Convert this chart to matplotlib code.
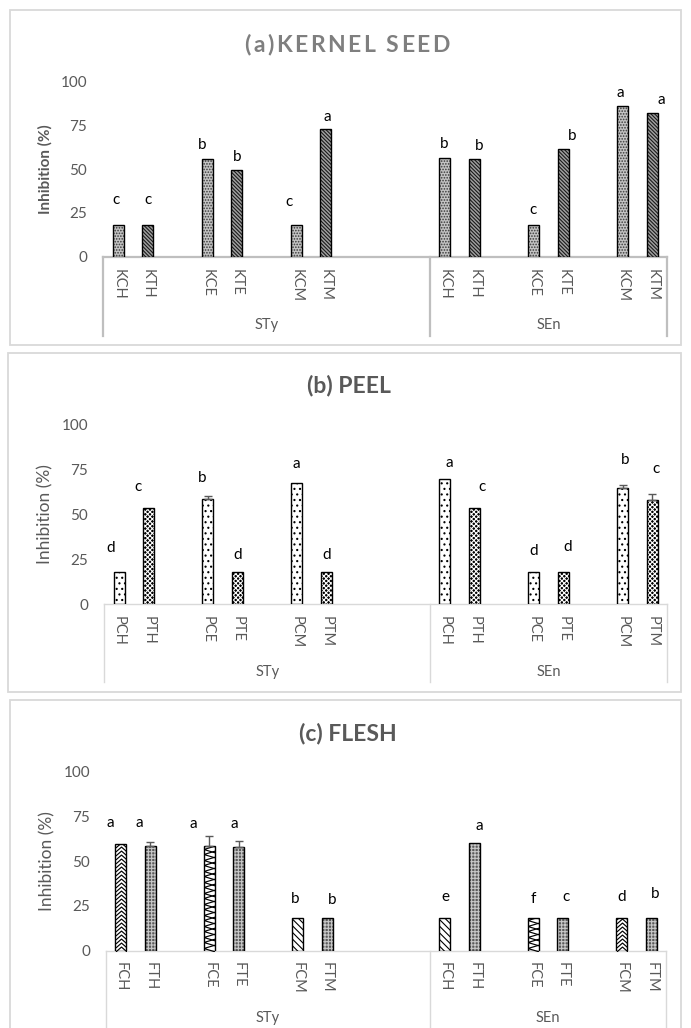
import matplotlib
matplotlib.use('Agg')
import matplotlib.pyplot as plt
import numpy as np
from matplotlib.patches import Rectangle
from matplotlib.path import Path

plt.rcParams['font.family'] = ['Lato', 'DejaVu Sans']
plt.rcParams['hatch.linewidth'] = 0.8

# ---------------- data ----------------
groups = ['STy', 'SEn']

kernel_labels = ['KCH', 'KTH', 'KCE', 'KTE', 'KCM', 'KTM']
kernel_sty = [18.0, 18.0, 55.7, 49.6, 18.0, 72.8]
kernel_sen = [56.6, 55.8, 18.0, 61.4, 86.0, 82.3]
kernel_letters_sty = ['c', 'c', 'b', 'b', 'c', 'a']
kernel_letters_sen = ['b', 'b', 'c', 'b', 'a', 'a']

peel_labels = ['PCH', 'PTH', 'PCE', 'PTE', 'PCM', 'PTM']
peel_sty = [18.0, 53.6, 58.2, 18.0, 67.5, 18.0]
peel_sen = [69.6, 53.7, 18.0, 18.0, 64.8, 57.8]
peel_err_sty = [0, 0, 2.0, 0, 0, 0]
peel_err_sen = [0, 0, 0, 0, 1.5, 3.4]
peel_letters_sty = ['d', 'c', 'b', 'd', 'a', 'd']
peel_letters_sen = ['a', 'c', 'd', 'd', 'b', 'c']

flesh_labels = ['FCH', 'FTH', 'FCE', 'FTE', 'FCM', 'FTM']
flesh_sty = [59.7, 58.7, 58.2, 57.8, 18.0, 18.0]
flesh_sen = [18.0, 60.1, 18.0, 18.0, 18.0, 18.0]
flesh_err_sty = [0, 2.0, 6.0, 3.2, 0, 0]
flesh_err_sen = [0, 0, 0, 0, 0, 0]
flesh_letters_sty = ['a', 'a', 'a', 'a', 'b', 'b']
flesh_letters_sen = ['e', 'a', 'f', 'c', 'd', 'b']

# letter annotation placement (y in % units, x shift in slot units)
kernel_letter_y = [32.4, 32.4, 63.8, 57.1, 31.4, 79.6, 64.2, 63.2, 26.7, 69.0, 93.3, 89.5]
kernel_letter_dx = [-0.07, 0, -0.18, 0, -0.25, 0.06, 0, 0.18, 0, 0.3, -0.07, 0.3]
peel_letter_y = [31.4, 65.0, 70.3, 27.3, 78.0, 27.3, 78.6, 65.0, 29.7, 31.6, 79.9, 74.9]
peel_letter_dx = [-0.27, -0.37, -0.18, 0, 0, 0, 0.15, 0.27, 0, 0.15, 0.1, 0.12]
flesh_letter_y = [71.5, 71.5, 70.6, 70.8, 28.9, 28.3, 30.2, 69.8, 28.9, 29.8, 30.2, 31.8]
flesh_letter_dx = [-0.34, -0.36, -0.55, -0.13, -0.09, 0.18, 0, 0.16, 0, 0.1, 0, 0.13]

# ---------------- layout ----------------
W, H = 691, 1028
fig = plt.figure(figsize=(W / 100, H / 100), dpi=100)
fig.patch.set_facecolor('white')

SLOTS_IN_PAIR = [0, 1, 3, 4, 6, 7]
GROUP_OFFSET = [0, 11]
NSLOTS = 19
BAR_W = 0.37
GRAY = '#595959'


def xpos(g, i):
    return GROUP_OFFSET[g] + SLOTS_IN_PAIR[i]


def chevron(kind):
    if kind == '^':
        v = [(-0.5, -0.22), (0, 0.22), (0.5, -0.22)]
    else:  # '<'
        v = [(0.5, -0.3), (-0.5, 0), (0.5, 0.3)]
    return Path(v, [Path.MOVETO, Path.LINETO, Path.LINETO])


CHEV_STEP = {'^': 4.0, '<': 5.5}


def make_panel(p):
    ppu = (p['y0'] - p['y100']) / 100.0
    left = p['left'] / W
    width = (p['right'] - p['left']) / W
    bottom = 1 - p['y0'] / H
    height = (p['y0'] - p['y100']) / H
    # border
    fig.patches.append(Rectangle((p['bx0'] / W, 1 - p['by1'] / H),
                                 (p['bx1'] - p['bx0']) / W, (p['by1'] - p['by0']) / H,
                                 transform=fig.transFigure, fill=False,
                                 edgecolor='#d9d9d9', linewidth=1.3, zorder=0))
    ax = fig.add_axes([left, bottom, width, height])
    ax.set_xlim(-0.5, NSLOTS - 0.5)
    ax.set_ylim(0, 100)
    for s in ax.spines.values():
        s.set_visible(False)
    ax.set_facecolor('none')
    ax.set_yticks([0, 25, 50, 75, 100])
    ax.tick_params(axis='y', length=0, pad=11.5, labelsize=11, labelcolor=GRAY)
    # categories
    xs, labs = [], []
    for g, vals in enumerate(p['vals']):
        for i in range(6):
            xs.append(xpos(g, i))
            labs.append(p['labels'][i])
    ax.set_xticks(xs)
    ax.set_xticklabels(labs, rotation=270, fontsize=10.5, color=GRAY)
    ax.tick_params(axis='x', length=0, pad=p['xpad'])
    # axis box
    ybot = -(p['bottom'] - p['y0']) / ppu
    lc, lw = p['linecolor'], p['linewidth']
    ax.plot([-0.5, NSLOTS - 0.5], [0, 0], color=lc, lw=lw, clip_on=False, zorder=1)
    for xv in [-0.5, 10.5, NSLOTS - 0.5]:
        ax.plot([xv, xv], [0, ybot], color=lc, lw=lw, clip_on=False, zorder=1)
    ygrp = -(p['group_y'] - p['y0']) / ppu
    for g, name in enumerate(groups):
        xc = (-0.5 + 10.5) / 2 if g == 0 else (10.5 + NSLOTS - 0.5) / 2
        ax.text(xc, ygrp, name, ha='center', va='center', fontsize=10.5, color=GRAY,
                clip_on=False)
    # bars
    k = 0
    for g, vals in enumerate(p['vals']):
        errs = p['errs'][g]
        for i, v in enumerate(vals):
            x = xpos(g, i)
            st = p['styles'][g][i]
            bars = ax.bar(x, v, BAR_W, color=st['face'], edgecolor=st['hcolor'],
                          hatch=st.get('hatch'), linewidth=0, zorder=2)
            if st.get('marker'):
                step = CHEV_STEP[st['marker']] / ppu
                ys = np.arange(step * 0.5, v + step, step)
                ln, = ax.plot([x] * len(ys), ys, linestyle='none',
                              marker=chevron(st['marker']), markersize=8,
                              markeredgecolor='black', markerfacecolor='none',
                              markeredgewidth=0.85, zorder=3)
                ln.set_clip_path(bars.patches[0])
            ax.bar(x, v, BAR_W, fill=False, edgecolor='black', linewidth=1.0, zorder=4)
            if errs[i] > 0:
                ax.errorbar(x, v, yerr=[[0], [errs[i]]], fmt='none', ecolor=GRAY,
                            elinewidth=1.0, capsize=3, capthick=1.0, zorder=5)
            ax.text(x + p['ldx'][k], p['ly'][k], p['letters'][g][i], ha='center',
                    va='center', fontsize=11, color='black', zorder=6, clip_on=False)
            k += 1
    # y label
    fig.text(p['ylab_x'] / W, 1 - (p['y0'] + p['y100']) / 2 / H, 'Inhibition (%)',
             rotation=90, ha='center', va='center', color=GRAY,
             fontsize=p['ylab_size'], fontweight=p['ylab_weight'])
    return ax


def spaced_title(text, cx, base_y, spacing, **kw):
    renderer = fig.canvas.get_renderer()

    def width(s):
        t = fig.text(0, 0, s, **kw)
        w = t.get_window_extent(renderer).width
        t.remove()
        return w

    bx = width('x')
    adv = [0.0] + [width(text[:i] + 'x') - bx for i in range(1, len(text))]
    total = width(text) + spacing * (len(text) - 1)
    x0 = cx - total / 2
    for i, ch in enumerate(text):
        if ch == ' ':
            continue
        fig.text((x0 + adv[i] + i * spacing) / W, 1 - base_y / H, ch, ha='left',
                 va='baseline', **kw)


kernel_style = [
    dict(face='#c4c4c4', hatch='......', hcolor='#3a3a3a'),
    dict(face='#a0a0a0', hatch='\\' * 9, hcolor='#1a1a1a'),
]
peel_style = [
    dict(face='white', hatch='...', hcolor='black'),
    dict(face='black', hatch='x' * 7, hcolor='white'),
]
flesh_c_styles = [
    [dict(face='white', marker='^', hcolor='black'),
     dict(face='white', marker='<', hcolor='black'),
     dict(face='white', hatch='\\' * 5, hcolor='black')],
    [dict(face='white', hatch='\\' * 5, hcolor='black'),
     dict(face='white', marker='<', hcolor='black'),
     dict(face='white', marker='^', hcolor='black')],
]
flesh_t_style = dict(face='#5a5a5a', hatch='+' * 5, hcolor='#c8c8c8')


def alt(styles):
    return [[styles[i % 2] for i in range(6)] for _ in range(2)]


flesh_styles = []
for g in range(2):
    row = []
    for i in range(6):
        row.append(flesh_c_styles[g][i // 2] if i % 2 == 0 else flesh_t_style)
    flesh_styles.append(row)

panels = [
    dict(vals=[kernel_sty, kernel_sen], errs=[[0] * 6, [0] * 6], labels=kernel_labels,
         letters=[kernel_letters_sty, kernel_letters_sen], ly=kernel_letter_y,
         ldx=kernel_letter_dx, styles=alt(kernel_style),
         left=103.3, right=667.0, y0=256.7, y100=81.7, bottom=336, group_y=325,
         xpad=9.0, linecolor='#bfbfbf', linewidth=1.6,
         bx0=9.5, bx1=680.5, by0=10.5, by1=345.0,
         ylab_x=45, ylab_size=11, ylab_weight='bold'),
    dict(vals=[peel_sty, peel_sen], errs=[peel_err_sty, peel_err_sen], labels=peel_labels,
         letters=[peel_letters_sty, peel_letters_sen], ly=peel_letter_y,
         ldx=peel_letter_dx, styles=alt(peel_style),
         left=104.3, right=667.0, y0=604.0, y100=424.3, bottom=682, group_y=671.7,
         xpad=9.0, linecolor='#d9d9d9', linewidth=1.0,
         bx0=7.5, bx1=681.0, by0=352.5, by1=692.0,
         ylab_x=45, ylab_size=12.5, ylab_weight='normal'),
    dict(vals=[flesh_sty, flesh_sen], errs=[flesh_err_sty, flesh_err_sen], labels=flesh_labels,
         letters=[flesh_letters_sty, flesh_letters_sen], ly=flesh_letter_y,
         ldx=flesh_letter_dx, styles=flesh_styles,
         left=106.0, right=666.0, y0=950.5, y100=771.7, bottom=1040, group_y=1017.7,
         xpad=8.0, linecolor='#d9d9d9', linewidth=1.0,
         bx0=9.5, bx1=681.0, by0=700.0, by1=1040.0,
         ylab_x=47, ylab_size=12.5, ylab_weight='normal'),
]

for p in panels:
    make_panel(p)

spaced_title('(a)KERNEL SEED', 347, 51.7, 2.5, fontsize=16.5, fontweight='bold',
             color='#7f7f7f')
fig.text(349 / W, 1 - 392 / H, '(b) PEEL', ha='center', va='baseline', fontsize=16.5,
         fontweight='bold', color=GRAY)
fig.text(348 / W, 1 - 740 / H, '(c) FLESH', ha='center', va='baseline', fontsize=16.5,
         fontweight='bold', color=GRAY)

fig.savefig('out.png', dpi=100)
